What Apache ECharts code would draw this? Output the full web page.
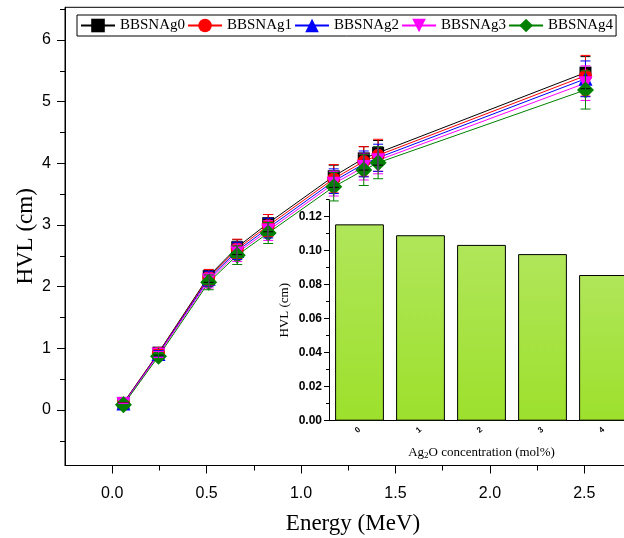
<!DOCTYPE html>
<html>
<head>
<meta charset="utf-8">
<script src="https://cdn.jsdelivr.net/npm/echarts@6/dist/echarts.min.js"></script>
<style>
  html, body { margin: 0; padding: 0; background: #fff; }
  #chart { width: 624px; height: 538px; }
</style>
</head>
<body>
<div id="chart"></div>
<script>
// Photon energies (MeV)
const energies = [0.0595, 0.245, 0.511, 0.662, 0.826, 1.173, 1.332, 1.408, 2.506];

// Half value layer (cm) for each glass
const hvlAg0 = [0.1155, 0.93, 2.17, 2.64, 3.03, 3.79, 4.08, 4.17, 5.47];
const hvlAg1 = [0.1091, 0.92, 2.15, 2.61, 2.99, 3.75, 4.03, 4.13, 5.42];
const hvlAg2 = [0.1034, 0.91, 2.13, 2.58, 2.95, 3.71, 3.99, 4.09, 5.37];
const hvlAg3 = [0.0980, 0.90, 2.10, 2.55, 2.91, 3.67, 3.94, 4.05, 5.30];
const hvlAg4 = [0.0857, 0.87, 2.07, 2.51, 2.87, 3.62, 3.89, 4.01, 5.19];

// Uncertainties (cm)
const errAg0 = [0.005, 0.04, 0.10, 0.12, 0.14, 0.18, 0.19, 0.20, 0.26];
const errAg1 = [0.007, 0.06, 0.13, 0.16, 0.18, 0.23, 0.24, 0.26, 0.33];
const errAg2 = [0.006, 0.05, 0.12, 0.14, 0.16, 0.20, 0.21, 0.22, 0.29];
const errAg3 = [0.006, 0.05, 0.12, 0.14, 0.16, 0.20, 0.21, 0.22, 0.28];
const errAg4 = [0.005, 0.05, 0.12, 0.15, 0.17, 0.23, 0.25, 0.26, 0.31];

const seriesNames = ['BBSNAg0', 'BBSNAg1', 'BBSNAg2', 'BBSNAg3', 'BBSNAg4'];

// Inset: HVL at the lowest energy vs Ag2O content
const concentrations = ['0', '1', '2', '3', '4'];
const hvlLowEnergy = [0.1155, 0.1091, 0.1034, 0.0980, 0.0857];

// Tick positions
const xMajorTicks = [0, 0.5, 1.0, 1.5, 2.0, 2.5];
const xMinorTicks = [0.25, 0.75, 1.25, 1.75, 2.25, 2.75];
const yMajorTicks = [0, 1, 2, 3, 4, 5, 6];
const yMinorTicks = [-0.5, 0.5, 1.5, 2.5, 3.5, 4.5, 5.5, 6.5];
const insetMajorTicks = [0, 0.02, 0.04, 0.06, 0.08, 0.10, 0.12];
const insetMinorTicks = [0.01, 0.03, 0.05, 0.07, 0.09, 0.11, 0.13];

const hvlSets = [hvlAg0, hvlAg1, hvlAg2, hvlAg3, hvlAg4];
const errSets = [errAg0, errAg1, errAg2, errAg3, errAg4];

const looks = [
  { color: '#000000', symbol: 'rect', size: 12, rotate: 0 },
  { color: '#ff0000', symbol: 'circle', size: 13, rotate: 0 },
  { color: '#0000ff', symbol: 'triangle', size: 14, rotate: 0 },
  { color: '#ff00ff', symbol: 'triangle', size: 14, rotate: 180 },
  { color: '#008000', symbol: 'diamond', size: 17, rotate: 0 }
];

const SERIF = '"Liberation Serif", "Times New Roman", serif';
const SANS = '"Liberation Sans", Arial, sans-serif';

function errorBars(name, ys, errs, color) {
  return {
    type: 'custom',
    name: name,
    xAxisIndex: 0,
    yAxisIndex: 0,
    z: 4,
    silent: true,
    encode: { x: 0, y: [1, 2] },
    data: energies.map((x, i) => [x, ys[i] - errs[i], ys[i] + errs[i]]),
    renderItem: function (params, api) {
      const lo = api.coord([api.value(0), api.value(1)]);
      const hi = api.coord([api.value(0), api.value(2)]);
      const hw = 5;
      const style = { stroke: color, lineWidth: 1, fill: null };
      return {
        type: 'group',
        children: [
          { type: 'line', shape: { x1: hi[0], y1: hi[1], x2: lo[0], y2: lo[1] }, style: style },
          { type: 'line', shape: { x1: hi[0] - hw, y1: hi[1], x2: hi[0] + hw, y2: hi[1] }, style: style },
          { type: 'line', shape: { x1: lo[0] - hw, y1: lo[1], x2: lo[0] + hw, y2: lo[1] }, style: style }
        ]
      };
    }
  };
}

const series = [];
seriesNames.forEach((name, k) => {
  const lk = looks[k];
  series.push({
    type: 'line',
    name: name,
    xAxisIndex: 0,
    yAxisIndex: 0,
    data: energies.map((x, i) => [x, hvlSets[k][i]]),
    symbol: lk.symbol,
    symbolSize: lk.size,
    symbolRotate: lk.rotate,
    showAllSymbol: true,
    lineStyle: { color: lk.color, width: 1 },
    itemStyle: { color: lk.color, borderWidth: 0 },
    z: 3
  });
  series.push(errorBars(name + ' error', hvlSets[k], errSets[k], lk.color));
});

series.push({
  type: 'bar',
  name: 'inset',
  xAxisIndex: 2,
  yAxisIndex: 2,
  data: hvlLowEnergy,
  barWidth: '80%',
  silent: true,
  itemStyle: {
    color: new echarts.graphic.LinearGradient(0, 0, 0, 1, [
      { offset: 0, color: '#b0e65a' },
      { offset: 1, color: '#9de02c' }
    ]),
    borderColor: '#000',
    borderWidth: 1
  }
});

const chart = echarts.init(document.getElementById('chart'), null, { renderer: 'canvas' });
chart.setOption({
  animation: false,
  backgroundColor: '#ffffff',
  legend: {
    data: seriesNames,
    left: 77,
    top: 15,
    padding: [3, 3],
    itemGap: 2,
    itemWidth: 34,
    itemHeight: 17,
    borderColor: '#000',
    borderWidth: 1,
    textStyle: { fontFamily: SERIF, fontSize: 15, color: '#000' }
  },
  grid: [
    { left: 65, top: 7.3, width: 576, height: 458.2, show: true, borderColor: '#000', borderWidth: 1,
      backgroundColor: 'transparent', outerBoundsMode: 'none', containLabel: false },
    { left: 329, top: 199.7, width: 305, height: 221, outerBoundsMode: 'none', containLabel: false }
  ],
  xAxis: [
    {
      type: 'value', gridIndex: 0, min: -0.25, max: 2.8, position: 'bottom',
      name: 'Energy (MeV)', nameLocation: 'middle', nameGap: 47, nameMoveOverlap: false,
      nameTextStyle: { fontFamily: SERIF, fontSize: 23, color: '#000' },
      axisLine: { onZero: false, lineStyle: { color: '#000', width: 1 } },
      axisTick: { inside: false, length: 8, customValues: xMajorTicks, lineStyle: { color: '#000' } },
      axisLabel: { customValues: xMajorTicks, margin: 20, fontFamily: SANS, fontSize: 16, color: '#000',
        formatter: v => v.toFixed(1) },
      splitLine: { show: false }
    },
    {
      type: 'value', gridIndex: 0, min: -0.25, max: 2.8, position: 'bottom',
      axisLine: { show: false, onZero: false },
      axisTick: { inside: false, length: 5, customValues: xMinorTicks, lineStyle: { color: '#000' } },
      axisLabel: { show: false },
      splitLine: { show: false }
    },
    {
      type: 'category', gridIndex: 1, data: concentrations, position: 'bottom',
      name: 'Ag{sub|2}O concentration (mol%)', nameLocation: 'middle', nameGap: 24, nameMoveOverlap: false,
      nameTextStyle: { fontFamily: SERIF, fontSize: 13, color: '#000',
        rich: { sub: { fontFamily: SERIF, fontSize: 9, verticalAlign: 'bottom', padding: [6, 0, 0, 0] } } },
      axisLine: { onZero: false, lineStyle: { color: '#000', width: 1 } },
      axisTick: { alignWithLabel: true, length: 4, lineStyle: { color: '#000' } },
      axisLabel: { rotate: 40, margin: 8, fontFamily: SANS, fontWeight: 'bold', fontSize: 8, color: '#000' },
      splitLine: { show: false }
    }
  ],
  yAxis: [
    {
      type: 'value', gridIndex: 0, min: -0.9, max: 6.53, position: 'left',
      name: 'HVL (cm)', nameLocation: 'middle', nameGap: 28, nameMoveOverlap: false,
      nameTextStyle: { fontFamily: SERIF, fontSize: 23, color: '#000' },
      axisLine: { show: true, onZero: false, lineStyle: { color: '#000', width: 1 } },
      axisTick: { show: true, inside: false, length: 8, customValues: yMajorTicks, lineStyle: { color: '#000' } },
      axisLabel: { customValues: yMajorTicks, margin: 14, fontFamily: SANS, fontSize: 16, color: '#000' },
      splitLine: { show: false }
    },
    {
      type: 'value', gridIndex: 0, min: -0.9, max: 6.53, position: 'left',
      axisLine: { show: false, onZero: false },
      axisTick: { show: true, inside: false, length: 5, customValues: yMinorTicks, lineStyle: { color: '#000' } },
      axisLabel: { show: false },
      splitLine: { show: false }
    },
    {
      type: 'value', gridIndex: 1, min: 0, max: 0.13, position: 'left',
      name: 'HVL (cm)', nameLocation: 'middle', nameGap: 38, nameMoveOverlap: false,
      nameTextStyle: { fontFamily: SERIF, fontSize: 13, color: '#000' },
      axisLine: { show: true, onZero: false, lineStyle: { color: '#000', width: 1 } },
      axisTick: { show: true, length: 5, customValues: insetMajorTicks, lineStyle: { color: '#000' } },
      axisLabel: { customValues: insetMajorTicks, margin: 7, fontFamily: SANS, fontWeight: 'bold', fontSize: 12, color: '#000',
        formatter: v => v.toFixed(2) },
      splitLine: { show: false }
    },
    {
      type: 'value', gridIndex: 1, min: 0, max: 0.13, position: 'left',
      axisLine: { show: false, onZero: false },
      axisTick: { show: true, length: 3, customValues: insetMinorTicks, lineStyle: { color: '#000' } },
      axisLabel: { show: false },
      splitLine: { show: false }
    }
  ],
  series: series
});
</script>
</body>
</html>
